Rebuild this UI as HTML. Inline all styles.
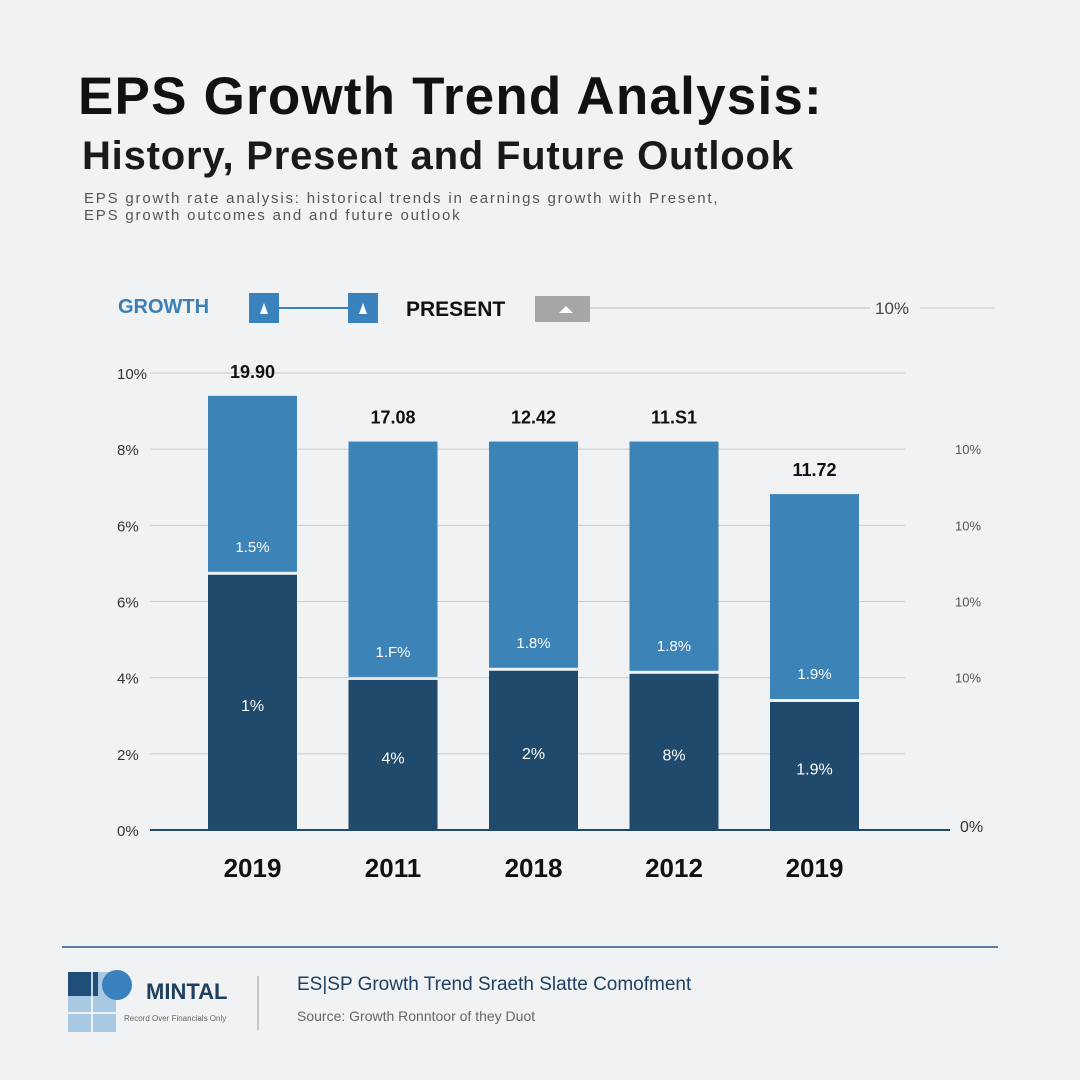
<!DOCTYPE html>
<html><head><meta charset="utf-8"><style>
body{margin:0;width:1080px;height:1080px;background:#f1f2f3;font-family:"Liberation Sans",sans-serif;overflow:hidden;position:relative}
.a{position:absolute;white-space:nowrap}
</style></head><body>
<div class="a" style="left:78px;top:66px;font-size:53px;font-weight:bold;color:#111;letter-spacing:1.2px">EPS Growth Trend Analysis:</div>
<div class="a" style="left:82px;top:134px;font-size:40px;font-weight:bold;color:#1a1a1a;letter-spacing:0.8px">History, Present and Future Outlook</div>
<div class="a" style="left:84px;top:190px;font-size:15px;color:#555;line-height:17px;letter-spacing:1.8px">EPS growth rate analysis: historical trends in earnings growth with Present,<br>EPS growth outcomes and and future outlook</div>
<div class="a" style="left:118px;top:296px;font-size:20px;font-weight:bold;color:#3a7fb5">GROWTH</div>
<svg class="a" style="left:0;top:0" width="1080" height="1080">
<g>
<rect x="249" y="293" width="30" height="30" fill="#3a82bd"/><polygon points="260,314 264,303 268,314" fill="#fff"/>
<line x1="279" y1="308" x2="348" y2="308" stroke="#3a82bd" stroke-width="2"/>
<rect x="348" y="293" width="30" height="30" fill="#3a82bd"/><polygon points="359,314 363,303 367,314" fill="#fff"/>
<rect x="535" y="296" width="55" height="26" fill="#a6a6a6"/><polygon points="559,313 566,306 573,313" fill="#fff"/>
<line x1="590" y1="308" x2="870" y2="308" stroke="#bbb" stroke-width="1"/>
<line x1="920" y1="308" x2="995" y2="308" stroke="#ccc" stroke-width="1"/>
<text x="406" y="316" font-size="21" font-weight="bold" fill="#111">PRESENT</text>
<text x="875" y="314" font-size="17" fill="#444">10%</text>
</g>
<g id="plot"></g>
<line x1="62" y1="947" x2="998" y2="947" stroke="#5a7fa3" stroke-width="2"/>
<g>
<rect x="68" y="972" width="48" height="60" fill="#a9c9e2"/>
<rect x="68" y="972" width="30" height="24" fill="#1f4e79"/>
<circle cx="117" cy="985" r="15" fill="#3a82bd"/>
<line x1="92" y1="972" x2="92" y2="1032" stroke="#fff" stroke-width="1.5"/>
<line x1="68" y1="1013" x2="116" y2="1013" stroke="#fff" stroke-width="1.5"/>
</g>
<line x1="258" y1="976" x2="258" y2="1030" stroke="#999" stroke-width="1"/>
<text x="146" y="999" font-size="22" font-weight="bold" fill="#1f3f60">MINTAL</text>
<text x="124" y="1021" font-size="8" fill="#666">Record Over Financials Only</text>
<text x="297" y="990" font-size="19" fill="#1f3f60">ES|SP Growth Trend Sraeth Slatte Comofment</text>
<text x="297" y="1021" font-size="14" fill="#666">Source: Growth Ronntoor of they Duot</text>
</svg>
<script>
const tickLabels=["0%","2%","4%","6%","6%","8%","10%"];
const rightTicks=["","","10%","10%","10%","10%",""];
const categories=["2019","2011","2018","2012","2019"];
const darkValues=[3.39,2.01,2.13,2.09,1.72];
const totalValues=[5.70,5.10,5.10,5.10,4.41];
const topLabels=["19.90","17.08","12.42","11.S1","11.72"];
const upperLabels=["1.5%","1.F%","1.8%","1.8%","1.9%"];
const darkLabels=["1%","4%","2%","8%","1.9%"];
const NS="http://www.w3.org/2000/svg";
const g=document.getElementById('plot');
const y=v=>830-v*(457/6);
const x=i=>208+i*140.5;
const bw=89;
function mk(t,a,p){const e=document.createElementNS(NS,t);for(const k in a)e.setAttribute(k,a[k]);(p||g).appendChild(e);return e;}
tickLabels.forEach((t,i)=>{
 if(i>0){const l=mk('line',{x1:150,y1:y(i),x2:905,y2:y(i),stroke:'#c8cbce','stroke-width':1});
 
 }
 const tx=mk('text',{x:117,y:y(i)+6,'font-size':15,fill:'#333'});tx.textContent=t;
 
 
 if(rightTicks[i]){const r=mk('text',{x:955,y:y(i)+5,'font-size':13,fill:'#555'});r.textContent=rightTicks[i];
 
 }
});
const r0=mk('text',{x:960,y:832,'font-size':16,fill:'#333'});r0.textContent="0%";
categories.forEach((c,i)=>{
 const X=x(i);
 const up=mk('rect',{x:X,y:y(totalValues[i]),width:bw,height:y(darkValues[i])-y(totalValues[i]),fill:'#3c83b8'});
 
 
 const dk=mk('rect',{x:X,y:y(darkValues[i])+3,width:bw,height:830-y(darkValues[i])-3,fill:'#1f4a6b'});
 
 
 const tl=mk('text',{x:X+bw/2,y:y(totalValues[i])-18,'font-size':18,'font-weight':'bold',fill:'#111','text-anchor':'middle'});tl.textContent=topLabels[i];
 
 
 const ul=mk('text',{x:X+bw/2,y:y(darkValues[i])-20,'font-size':15,fill:'#fff','text-anchor':'middle'});ul.textContent=upperLabels[i];
 
 
 const dl=mk('text',{x:X+bw/2,y:(y(darkValues[i])+830)/2+10,'font-size':16,fill:'#fff','text-anchor':'middle'});dl.textContent=darkLabels[i];
 
 
 const cl=mk('text',{x:X+bw/2,y:877,'font-size':26,'font-weight':'bold',fill:'#111','text-anchor':'middle'});cl.textContent=c;
 
 
});
const base=mk('line',{x1:150,y1:830,x2:950,y2:830,stroke:'#1f4a6b','stroke-width':2});


</script>
</body></html>
